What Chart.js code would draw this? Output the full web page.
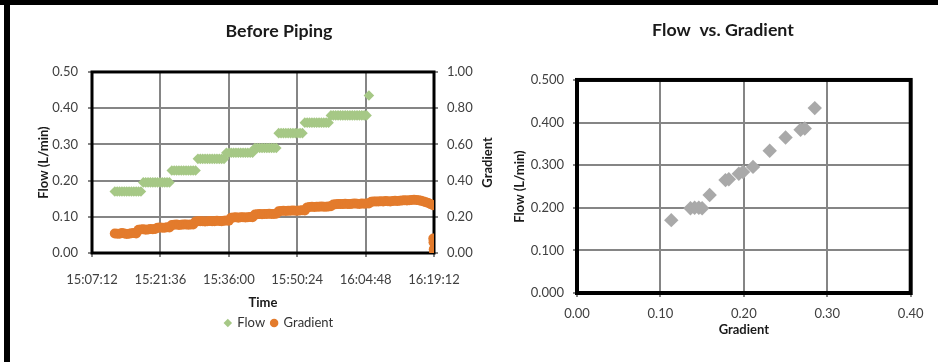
<!DOCTYPE html>
<html>
<head>
<meta charset="utf-8">
<script src="https://cdn.jsdelivr.net/npm/chart.js@4.4.1/dist/chart.umd.min.js"></script>
<style>
  body { margin: 0; width: 938px; height: 362px; overflow: hidden; background: #fff; position: relative; }
  .bar { position: absolute; background: #000; }
  .box { position: absolute; top: 0; }
</style>
</head>
<body>
<div class="bar" style="left:0; top:0; width:938px; height:5px;"></div>
<div class="bar" style="left:4px; top:0; width:6px; height:362px;"></div>
<div class="box" style="left:10px;"><canvas id="timeChart" width="538" height="362"></canvas></div>
<div class="box" style="left:510px;"><canvas id="scatterChart" width="426" height="362"></canvas></div>
<script>
// logger readings, one every 30 s, plus the last few at the end of the run
const times = [
  '15:12:00','15:12:30','15:13:00','15:13:30','15:14:00','15:14:30','15:15:00','15:15:30','15:16:00','15:16:30','15:17:00','15:17:30','15:18:00','15:18:30','15:19:00','15:19:30','15:20:00','15:20:30','15:21:00','15:21:30',
  '15:22:00','15:22:30','15:23:00','15:23:30','15:24:00','15:24:30','15:25:00','15:25:30','15:26:00','15:26:30','15:27:00','15:27:30','15:28:00','15:28:30','15:29:00','15:29:30','15:30:00','15:30:30','15:31:00','15:31:30',
  '15:32:00','15:32:30','15:33:00','15:33:30','15:34:00','15:34:30','15:35:00','15:35:30','15:36:00','15:36:30','15:37:00','15:37:30','15:38:00','15:38:30','15:39:00','15:39:30','15:40:00','15:40:30','15:41:00','15:41:30',
  '15:42:00','15:42:30','15:43:00','15:43:30','15:44:00','15:44:30','15:45:00','15:45:30','15:46:00','15:46:30','15:47:00','15:47:30','15:48:00','15:48:30','15:49:00','15:49:30','15:50:00','15:50:30','15:51:00','15:51:30',
  '15:52:00','15:52:30','15:53:00','15:53:30','15:54:00','15:54:30','15:55:00','15:55:30','15:56:00','15:56:30','15:57:00','15:57:30','15:58:00','15:58:30','15:59:00','15:59:30','16:00:00','16:00:30','16:01:00','16:01:30',
  '16:02:00','16:02:30','16:03:00','16:03:30','16:04:00','16:04:30','16:05:00','16:05:30','16:06:00','16:06:30','16:07:00','16:07:30','16:08:00','16:08:30','16:09:00','16:09:30','16:10:00','16:10:30','16:11:00','16:11:30',
  '16:12:00','16:12:30','16:13:00','16:13:30','16:14:00','16:14:30','16:15:00','16:15:30','16:16:00','16:16:30','16:17:00','16:17:30','16:18:00','16:18:30','16:19:00',
  '16:19:03','16:19:06','16:19:09','16:19:12'
];

// Flow (L/min)
const flow = [
  0.17,0.17,0.17,0.17,0.17,0.17,0.17,0.17,0.17,0.17,0.17,0.17,0.195,0.195,0.195,0.195,0.195,0.195,0.195,0.195,
  0.195,0.195,0.195,0.195,0.228,0.228,0.228,0.228,0.228,0.228,0.228,0.228,0.228,0.228,0.228,0.26,0.26,0.26,0.26,0.26,
  0.26,0.26,0.26,0.26,0.26,0.26,0.26,0.277,0.277,0.277,0.277,0.277,0.277,0.277,0.277,0.277,0.277,0.277,0.277,0.29,
  0.29,0.29,0.29,0.29,0.29,0.29,0.29,0.29,0.29,0.331,0.331,0.331,0.331,0.331,0.331,0.331,0.331,0.331,0.331,0.331,
  0.36,0.36,0.36,0.36,0.36,0.36,0.36,0.36,0.36,0.36,0.36,0.38,0.38,0.38,0.38,0.38,0.38,0.38,0.38,0.38,
  0.38,0.38,0.38,0.38,0.38,0.38,0.38,0.435,null,null,null,null,null,null,null,null,null,null,null,null,
  null,null,null,null,null,null,null,null,null,null,null,null,null,null,null,
  null,null,null,null
];

// Gradient (-)
const gradient = [
  0.108,0.106,0.107,0.110,0.108,0.105,0.107,0.109,0.110,0.108,0.128,0.130,0.131,0.129,0.130,0.132,0.131,0.133,0.140,0.141,
  0.139,0.140,0.142,0.141,0.155,0.156,0.157,0.155,0.156,0.158,0.157,0.156,0.158,0.157,0.174,0.175,0.176,0.175,0.174,0.176,
  0.177,0.175,0.176,0.178,0.177,0.176,0.178,0.179,0.178,0.195,0.196,0.197,0.195,0.197,0.198,0.196,0.197,0.199,0.198,0.213,
  0.214,0.215,0.214,0.216,0.215,0.217,0.216,0.215,0.217,0.231,0.232,0.233,0.232,0.234,0.233,0.235,0.234,0.233,0.235,0.236,
  0.235,0.252,0.254,0.255,0.254,0.256,0.255,0.257,0.256,0.255,0.257,0.258,0.268,0.269,0.270,0.271,0.270,0.272,0.271,0.270,
  0.272,0.273,0.272,0.271,0.273,0.272,0.274,0.273,0.283,0.284,0.285,0.284,0.286,0.285,0.287,0.286,0.285,0.287,0.288,0.287,
  0.289,0.290,0.291,0.290,0.292,0.293,0.294,0.293,0.291,0.288,0.285,0.281,0.276,0.270,0.264,
  0.08,0.06,0.02,0.01
];

// Flow vs. Gradient points
const scatterGradient = [0.113, 0.136, 0.141, 0.146, 0.150, 0.159, 0.178, 0.182, 0.194, 0.199, 0.211, 0.231, 0.250, 0.268, 0.273, 0.285];
const scatterFlow     = [0.171, 0.199, 0.200, 0.200, 0.199, 0.230, 0.265, 0.267, 0.280, 0.284, 0.296, 0.334, 0.365, 0.383, 0.386, 0.434];

const timeAxisStart = '15:07:12';
const timeAxisEnd = '16:19:12';
const timeAxisStep = '0:14:24';

if (flow.length !== times.length || gradient.length !== times.length) {
  throw new Error('length mismatch ' + times.length + ' ' + flow.length + ' ' + gradient.length);
}

function toSec(t) {
  const [h, m, s] = t.split(':').map(Number);
  return h * 3600 + m * 60 + s;
}
function fmtTime(sec) {
  const h = Math.floor(sec / 3600);
  const m = Math.floor((sec % 3600) / 60);
  const s = Math.round(sec % 60);
  return h + ':' + String(m).padStart(2, '0') + ':' + String(s).padStart(2, '0');
}
function series(values) {
  return times.map((t, i) => ({ x: toSec(t), y: values[i] })).filter(p => p.y !== null);
}

Chart.defaults.font.family = 'Lato, "Open Sans", sans-serif';
Chart.defaults.color = '#404040';
Chart.defaults.animation = false;

const gridColor = '#858585';
const tickFont = { size: 13 };
const axisTitleFont = { size: 13, weight: 'bold' };
const chartTitleFont = { size: 17.8, weight: 'bold' };

// black frame round the plot area
const plotBorder = {
  id: 'plotBorder',
  beforeDatasetsDraw(chart, args, opts) {
    const { left, top, right, bottom } = chart.chartArea;
    const ctx = chart.ctx;
    ctx.save();
    ctx.strokeStyle = '#000';
    ctx.lineWidth = opts.width || 3;
    ctx.strokeRect(left, top, right - left, bottom - top);
    ctx.restore();
  }
};

// secondary axis title, rotated like the primary one
const rightTitle = {
  id: 'rightTitle',
  afterDraw(chart, args, opts) {
    const s = chart.scales[opts.axis];
    const ctx = chart.ctx;
    ctx.save();
    ctx.font = 'bold 13px Lato, "Open Sans", sans-serif';
    ctx.fillStyle = '#1a1a1a';
    ctx.textAlign = 'center';
    ctx.textBaseline = 'middle';
    ctx.translate(s.right - opts.offset, (s.top + s.bottom) / 2);
    ctx.rotate(-Math.PI / 2);
    ctx.fillText(opts.text, 0, 0);
    ctx.restore();
  }
};

new Chart(document.getElementById('timeChart'), {
  type: 'scatter',
  data: {
    datasets: [{
      label: 'Flow',
      data: series(flow),
      yAxisID: 'y',
      pointStyle: 'rectRot',
      pointRadius: 5.3,
      pointBackgroundColor: '#a6c886',
      pointBorderColor: '#a6c886',
      pointBorderWidth: 0
    }, {
      label: 'Gradient',
      data: series(gradient),
      yAxisID: 'y1',
      pointStyle: 'circle',
      pointRadius: 5,
      pointBackgroundColor: '#e37b2c',
      pointBorderColor: '#e37b2c',
      pointBorderWidth: 0
    }]
  },
  options: {
    responsive: false,
    layout: { padding: { bottom: 22.5 } },
    plugins: {
      title: {
        display: true, text: 'Before Piping', color: '#1a1a1a',
        font: chartTitleFont, padding: { top: 20.3, bottom: 30.3 }
      },
      legend: {
        position: 'bottom',
        labels: { usePointStyle: true, boxWidth: 6, boxHeight: 6, padding: 6, font: { size: 13 }, color: '#333' }
      },
      tooltip: { enabled: false },
      plotBorder: { width: 3 },
      rightTitle: { axis: 'y1', text: 'Gradient', offset: 60 }
    },
    scales: {
      x: {
        type: 'linear',
        min: toSec(timeAxisStart), max: toSec(timeAxisEnd),
        ticks: { stepSize: toSec(timeAxisStep), callback: v => fmtTime(v), font: tickFont, padding: 15, maxRotation: 0 },
        grid: { color: gridColor, lineWidth: 2, tickLength: 4 },
        border: { display: false },
        title: { display: true, text: 'Time', font: axisTitleFont, color: '#1a1a1a', padding: 0 },
        afterFit: s => { s.height = 57.5; }
      },
      y: {
        position: 'left', min: 0, max: 0.5,
        ticks: { stepSize: 0.1, callback: v => v.toFixed(2), font: tickFont, padding: 10 },
        grid: { color: gridColor, lineWidth: 2, tickLength: 4 },
        border: { display: false },
        title: { display: true, text: 'Flow (L/min)', font: axisTitleFont, color: '#1a1a1a', padding: { top: 26, bottom: 0 } },
        afterFit: s => { s.width = 82; }
      },
      y1: {
        position: 'right', min: 0, max: 1,
        ticks: { stepSize: 0.2, callback: v => v.toFixed(2), font: tickFont, padding: 9 },
        grid: { drawOnChartArea: false, color: gridColor, lineWidth: 2, tickLength: 4 },
        border: { display: false },
        afterFit: s => { s.width = 114; }
      }
    }
  },
  plugins: [plotBorder, rightTitle]
});

new Chart(document.getElementById('scatterChart'), {
  type: 'scatter',
  data: {
    datasets: [{
      label: 'Flow vs. Gradient',
      data: scatterGradient.map((g, i) => ({ x: g, y: scatterFlow[i] })),
      pointStyle: 'rectRot',
      pointRadius: 7.2,
      pointBackgroundColor: '#a9a9a9',
      pointBorderColor: '#a9a9a9',
      pointBorderWidth: 0
    }]
  },
  options: {
    responsive: false,
    layout: { padding: { bottom: 24.2 } },
    plugins: {
      title: {
        display: true, text: 'Flow  vs. Gradient', color: '#1a1a1a',
        font: chartTitleFont, padding: { top: 19.3, bottom: 39.3 }
      },
      legend: { display: false },
      tooltip: { enabled: false },
      plotBorder: { width: 4 }
    },
    scales: {
      x: {
        type: 'linear', min: 0, max: 0.4,
        ticks: { stepSize: 0.1, callback: v => v.toFixed(2), font: tickFont, padding: 9, maxRotation: 0 },
        grid: { color: gridColor, lineWidth: 2, tickLength: 4 },
        border: { display: false },
        title: { display: true, text: 'Gradient', font: axisTitleFont, color: '#1a1a1a', padding: 0 },
        afterFit: s => { s.height = 44.8; }
      },
      y: {
        position: 'left', min: 0, max: 0.5,
        ticks: { stepSize: 0.1, callback: v => v.toFixed(3), font: tickFont, padding: 9 },
        grid: { color: gridColor, lineWidth: 2, tickLength: 4 },
        border: { display: false },
        title: { display: true, text: 'Flow (L/min)', font: axisTitleFont, color: '#1a1a1a', padding: { top: 2.2, bottom: 0 } },
        afterFit: s => { s.width = 67; }
      },
      pad: {
        type: 'linear', position: 'right', display: true,
        grid: { display: false }, ticks: { display: false }, border: { display: false },
        afterFit: s => { s.width = 25.3; }
      }
    }
  },
  plugins: [plotBorder]
});
</script>
</body>
</html>
